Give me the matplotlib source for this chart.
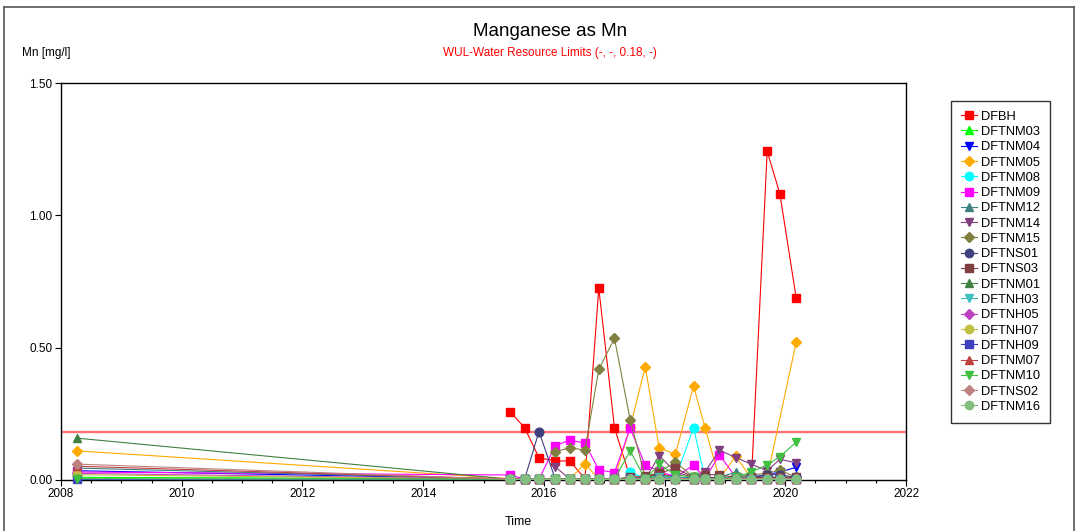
import numpy as np
import matplotlib
matplotlib.use("Agg")
import matplotlib.pyplot as plt
from matplotlib.lines import Line2D
from matplotlib.ticker import MultipleLocator, FormatStrFormatter

plt.rcParams['font.family'] = ['Liberation Sans', 'DejaVu Sans']

N = np.nan

# sampling dates (decimal years)
dates = [2008.27, 2015.44, 2015.68, 2015.92, 2016.19, 2016.43, 2016.68, 2016.91,
         2017.17, 2017.43, 2017.68, 2017.91, 2018.18, 2018.48, 2018.67, 2018.91,
         2019.18, 2019.44, 2019.70, 2019.91, 2020.18]

# Mn concentrations [mg/l] per borehole
dfbh    = [N, 0.258, 0.198, 0.084, 0.072, 0.072, 0.005, 0.725, 0.198, 0.008, 0.005,
           0.025, 0.010, 0.005, 0.010, 0.008, 0.010, 0.008, 1.242, 1.082, 0.689]
dftnm03 = [0.010, 0.005, 0.003, 0.003, 0.003, 0.003, 0.003, 0.003, 0.003, 0.010, 0.005,
           0.020, 0.010, 0.005, 0.005, 0.005, 0.010, 0.010, 0.010, 0.010, 0.010]
dftnm04 = [0.035, 0.004, 0.003, 0.003, 0.003, 0.003, 0.003, 0.003, 0.003, 0.003, 0.005,
           0.005, 0.005, 0.005, 0.005, 0.005, 0.005, 0.010, 0.020, 0.030, 0.048]
dftnm05 = [0.110, 0.005, 0.003, 0.003, 0.003, 0.003, 0.062, 0.003, 0.005, 0.200, 0.428,
           0.122, 0.097, 0.356, 0.198, 0.005, 0.090, 0.005, 0.010, N, 0.520]
dftnm08 = [N, N, N, N, N, N, N, N, N, 0.030, 0.005,
           0.005, 0.005, 0.198, 0.005, 0.005, 0.005, 0.005, 0.005, 0.005, 0.005]
dftnm09 = [0.030, 0.019, 0.003, 0.003, 0.130, 0.151, 0.139, 0.038, 0.028, 0.196, 0.055,
           0.035, 0.010, 0.057, 0.005, 0.095, 0.010, 0.005, 0.005, 0.005, 0.005]
dftnm12 = [0.045, 0.003, 0.003, 0.003, 0.003, 0.003, 0.003, 0.003, 0.003, 0.005, 0.010,
           0.020, 0.010, 0.010, 0.005, 0.010, 0.030, 0.010, 0.010, 0.010, 0.010]
dftnm14 = [N, N, N, N, 0.050, 0.003, 0.003, 0.003, 0.003, 0.003, 0.003,
           0.092, 0.030, 0.010, 0.031, 0.112, 0.085, 0.059, 0.035, 0.078, 0.065]
dftnm15 = [N, N, N, N, 0.107, 0.122, 0.113, 0.418, 0.535, 0.227, 0.010,
           0.030, 0.068, 0.010, 0.005, 0.010, 0.010, 0.020, 0.025, 0.038, 0.010]
dftns01 = [N, N, 0.003, 0.183, 0.003, N, N, N, N, N, N,
           N, N, N, N, N, 0.010, 0.010, 0.020, 0.020, 0.010]
dftns03 = [N, 0.003, 0.003, 0.003, 0.003, 0.003, 0.003, 0.003, 0.003, 0.010, 0.015,
           0.025, 0.045, 0.010, 0.020, 0.020, 0.010, 0.010, 0.010, 0.010, 0.010]
dftnm01 = [0.158, 0.003, 0.003, 0.003, 0.003, 0.003, 0.003, 0.003, 0.003, 0.005, 0.005,
           0.010, 0.010, 0.005, 0.005, 0.005, 0.005, 0.005, 0.005, 0.005, 0.005]
dftnh03 = [N, N, N, N, N, N, N, N, N, 0.005, 0.005,
           0.010, 0.010, 0.005, 0.005, 0.005, 0.010, 0.005, 0.005, 0.005, 0.005]
dftnh05 = [0.025, 0.003, 0.003, 0.003, 0.003, 0.003, 0.003, 0.003, 0.003, 0.003, 0.005,
           0.005, 0.005, 0.005, 0.005, 0.005, 0.005, 0.005, 0.005, 0.005, 0.005]
dftnh07 = [0.020, 0.003, 0.003, 0.003, 0.003, 0.003, 0.003, 0.003, 0.003, 0.003, 0.005,
           0.005, 0.005, 0.005, 0.005, 0.005, 0.005, 0.005, 0.005, 0.005, 0.005]
dftnh09 = [0.002, 0.003, 0.003, 0.003, 0.003, 0.003, 0.003, 0.003, 0.003, 0.003, 0.005,
           0.005, 0.005, 0.005, 0.005, 0.005, 0.005, 0.005, 0.005, 0.005, 0.005]
dftnm07 = [0.052, 0.003, 0.003, 0.003, 0.003, 0.003, 0.003, 0.003, 0.003, 0.003, 0.005,
           0.005, 0.005, 0.005, 0.005, 0.005, 0.005, 0.005, 0.005, 0.005, 0.005]
dftnm10 = [0.005, 0.003, 0.003, 0.003, 0.003, 0.003, 0.003, 0.003, 0.003, 0.110, 0.003,
           0.059, 0.020, 0.010, 0.005, 0.005, 0.010, 0.030, 0.058, 0.088, 0.143]
dftns02 = [0.060, 0.003, 0.003, 0.003, 0.003, 0.003, 0.003, 0.003, 0.003, 0.003, 0.005,
           0.005, 0.005, 0.005, 0.005, 0.005, 0.005, 0.005, 0.005, 0.005, 0.005]
dftnm16 = [N, 0.003, 0.003, 0.003, 0.003, 0.003, 0.003, 0.003, 0.003, 0.003, 0.003,
           0.003, 0.003, 0.003, 0.003, 0.003, 0.003, 0.003, 0.003, 0.003, 0.003]

wul_limit = 0.18

series = [
    ("DFBH",    dfbh,    "#ff0000", "s"),
    ("DFTNM03", dftnm03, "#00ff00", "^"),
    ("DFTNM04", dftnm04, "#0000ff", "v"),
    ("DFTNM05", dftnm05, "#ffaa00", "D"),
    ("DFTNM08", dftnm08, "#00ffff", "o"),
    ("DFTNM09", dftnm09, "#ff00ff", "s"),
    ("DFTNM12", dftnm12, "#408080", "^"),
    ("DFTNM14", dftnm14, "#804080", "v"),
    ("DFTNM15", dftnm15, "#808040", "D"),
    ("DFTNS01", dftns01, "#404080", "o"),
    ("DFTNS03", dftns03, "#804040", "s"),
    ("DFTNM01", dftnm01, "#408040", "^"),
    ("DFTNH03", dftnh03, "#40bfbf", "v"),
    ("DFTNH05", dftnh05, "#bf40bf", "D"),
    ("DFTNH07", dftnh07, "#bfbf40", "o"),
    ("DFTNH09", dftnh09, "#4040bf", "s"),
    ("DFTNM07", dftnm07, "#bf4040", "^"),
    ("DFTNM10", dftnm10, "#40bf40", "v"),
    ("DFTNS02", dftns02, "#bf8080", "D"),
    ("DFTNM16", dftnm16, "#80bf80", "o"),
]

W, H = 1079, 531
fig = plt.figure(figsize=(W / 100, H / 100), dpi=100)
ax = fig.add_axes([61 / W, 1 - 480 / H, (906 - 61) / W, (480 - 83) / H])

x_all = np.array(dates)
ax.axhline(wul_limit, color="#ff7070", lw=1.7, zorder=1)

handles = []
for name, vals, col, mk in series:
    v = np.array(vals, dtype=float)
    ok = ~np.isnan(v)
    ms = 5.0 if mk == "D" else 6.3
    ln, = ax.plot(x_all[ok], v[ok], color=col, marker=mk, ms=ms, lw=0.8,
                  mec=col, mfc=col, zorder=3, clip_on=False)
    handles.append(ln)

ax.set_xlim(2008, 2022)
ax.set_ylim(0, 1.5)
ax.xaxis.set_major_locator(MultipleLocator(2))
ax.xaxis.set_minor_locator(MultipleLocator(0.5))
ax.yaxis.set_major_locator(MultipleLocator(0.5))
ax.yaxis.set_major_formatter(FormatStrFormatter("%.2f"))
ax.tick_params(axis="both", which="major", direction="out", length=4,
               width=0.8, labelsize=8.5, pad=2)
ax.tick_params(axis="x", which="minor", direction="out", length=2.5, width=0.8)
for s in ax.spines.values():
    s.set_linewidth(1.0)

fig.text(550 / W, 1 - 32 / H, "Manganese as Mn", ha="center", va="center",
         fontsize=13.5)
fig.text(550 / W, 1 - 53 / H, "WUL-Water Resource Limits (-, -, 0.18, -)",
         ha="center", va="center", fontsize=8.5, color="#ff0000")
fig.text(22 / W, 1 - 53 / H, "Mn [mg/l]", ha="left", va="center", fontsize=8.5)
fig.text(518 / W, 1 - 522 / H, "Time", ha="center", va="center", fontsize=9)

leg = fig.legend(handles=handles, labels=[s[0] for s in series],
                 loc="upper left", bbox_to_anchor=(951 / W, 1 - 101 / H),
                 fontsize=9.3, frameon=True, fancybox=False, edgecolor="black",
                 handlelength=1.3, handletextpad=0.3, labelspacing=0.25,
                 borderpad=0.75, borderaxespad=0)
leg.get_frame().set_linewidth(1.0)
for h in leg.legend_handles:
    h.set_markersize(6 if h.get_marker() != "D" else 5)

# outer frame
fig.add_artist(Line2D([4 / W, 1074 / W], [1 - 7 / H, 1 - 7 / H],
                      transform=fig.transFigure, color="#555555", lw=1.2))
fig.add_artist(Line2D([4 / W, 4 / W], [0, 1 - 7 / H],
                      transform=fig.transFigure, color="#555555", lw=1.2))
fig.add_artist(Line2D([1074 / W, 1074 / W], [0, 1 - 7 / H],
                      transform=fig.transFigure, color="#555555", lw=1.2))

fig.savefig("out.png", dpi=100)
